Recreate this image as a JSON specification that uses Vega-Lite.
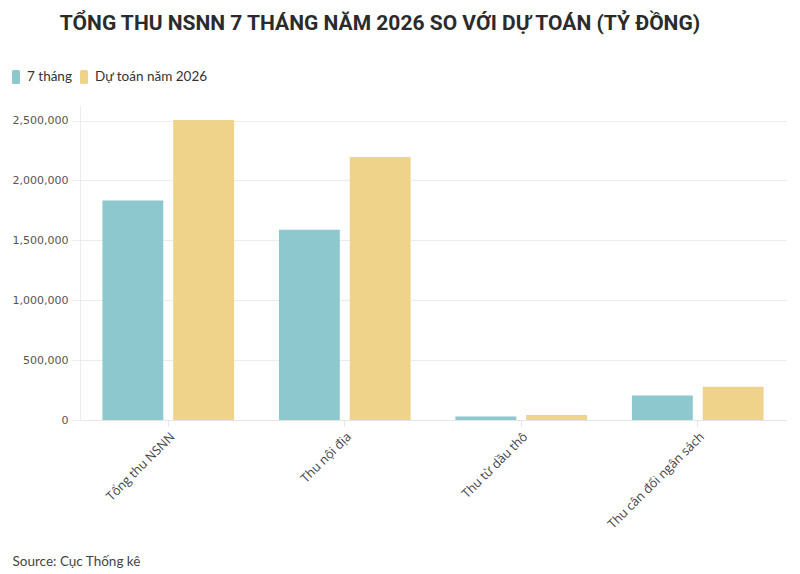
{
  "$schema": "https://vega.github.io/schema/vega-lite/v6.json",
  "description": "Tổng thu NSNN 7 tháng năm 2026 so với dự toán",
  "autosize": {"type": "none"},
  "width": 706,
  "height": 315,
  "padding": {"left": 80, "top": 105, "right": 14, "bottom": 154},
  "background": "white",
  "title": {
    "text": "TỔNG THU NSNN 7 THÁNG NĂM 2026 SO VỚI DỰ TOÁN (TỶ ĐỒNG)",
    "font": "Roboto",
    "fontSize": 21,
    "fontWeight": "bold",
    "color": "#2b2b2b",
    "anchor": "middle",
    "dx": -53,
    "offset": 33
  },
  "data": {
    "values": [
      {"Khoan": "Tổng thu NSNN", "Loai": "7 tháng", "Gia_tri": 1833000},
      {"Khoan": "Tổng thu NSNN", "Loai": "Dự toán năm 2026", "Gia_tri": 2505000},
      {"Khoan": "Thu nội địa", "Loai": "7 tháng", "Gia_tri": 1589000},
      {"Khoan": "Thu nội địa", "Loai": "Dự toán năm 2026", "Gia_tri": 2195000},
      {"Khoan": "Thu từ dầu thô", "Loai": "7 tháng", "Gia_tri": 30000},
      {"Khoan": "Thu từ dầu thô", "Loai": "Dự toán năm 2026", "Gia_tri": 42000},
      {"Khoan": "Thu cân đối ngân sách", "Loai": "7 tháng", "Gia_tri": 205000},
      {"Khoan": "Thu cân đối ngân sách", "Loai": "Dự toán năm 2026", "Gia_tri": 278000}
    ]
  },
  "mark": {"type": "bar"},
  "encoding": {
    "x": {
      "field": "Khoan",
      "type": "nominal",
      "sort": null,
      "scale": {"paddingInner": 0.254, "paddingOuter": 0.127},
      "axis": {
        "title": "Source: Cục Thống kê",
        "titleX": -68,
        "titleY": 145,
        "titleAlign": "left",
        "titleAnchor": "start",
        "titleBaseline": "alphabetic",
        "titleFont": "Lato",
        "titleFontSize": 13.5,
        "titleFontWeight": "normal",
        "titleColor": "#444",
        "labelAngle": -45,
        "labelFont": "Open Sans",
        "labelFontSize": 12.5,
        "labelColor": "#444",
        "labelPadding": 4,
        "domainColor": "#e6e6e6",
        "tickColor": "#e6e6e6",
        "tickSize": 6
      }
    },
    "xOffset": {
      "field": "Loai",
      "type": "nominal",
      "sort": ["7 tháng", "Dự toán năm 2026"],
      "scale": {"paddingInner": 0.14, "paddingOuter": 0}
    },
    "y": {
      "field": "Gia_tri",
      "type": "quantitative",
      "scale": {"domain": [0, 2630000], "nice": false},
      "axis": {
        "title": null,
        "values": [0, 500000, 1000000, 1500000, 2000000, 2500000],
        "format": ",d",
        "labelFont": "DejaVu Sans",
        "labelFontSize": 11,
        "labelColor": "#555",
        "labelPadding": 4,
        "tickSize": 8,
        "tickColor": "#ececec",
        "domainColor": "#ececec",
        "gridColor": "#ececec"
      }
    },
    "color": {
      "field": "Loai",
      "type": "nominal",
      "sort": ["7 tháng", "Dự toán năm 2026"],
      "scale": {"domain": ["7 tháng", "Dự toán năm 2026"], "range": ["#8cc8ce", "#f0d38b"]},
      "legend": {
        "title": null,
        "orient": "none",
        "legendX": -74,
        "legendY": -38,
        "direction": "horizontal",
        "labelFont": "Lato",
        "labelFontSize": 13.5,
        "labelColor": "#333",
        "symbolType": "M-0.4,-0.55 Q-0.4,-0.7 -0.25,-0.7 L0.25,-0.7 Q0.4,-0.7 0.4,-0.55 L0.4,0.55 Q0.4,0.7 0.25,0.7 L-0.25,0.7 Q-0.4,0.7 -0.4,0.55 Z",
        "symbolSize": 400,
        "symbolStrokeWidth": 0,
        "symbolOpacity": 1,
        "labelOffset": 1,
        "columnPadding": 2
      }
    },
    "tooltip": [
      {"field": "Khoan", "title": "Khoản thu"},
      {"field": "Loai", "title": "Loại"},
      {"field": "Gia_tri", "type": "quantitative", "title": "Tỷ đồng", "format": ","}
    ]
  },
  "config": {
    "view": {"stroke": null}
  }
}
